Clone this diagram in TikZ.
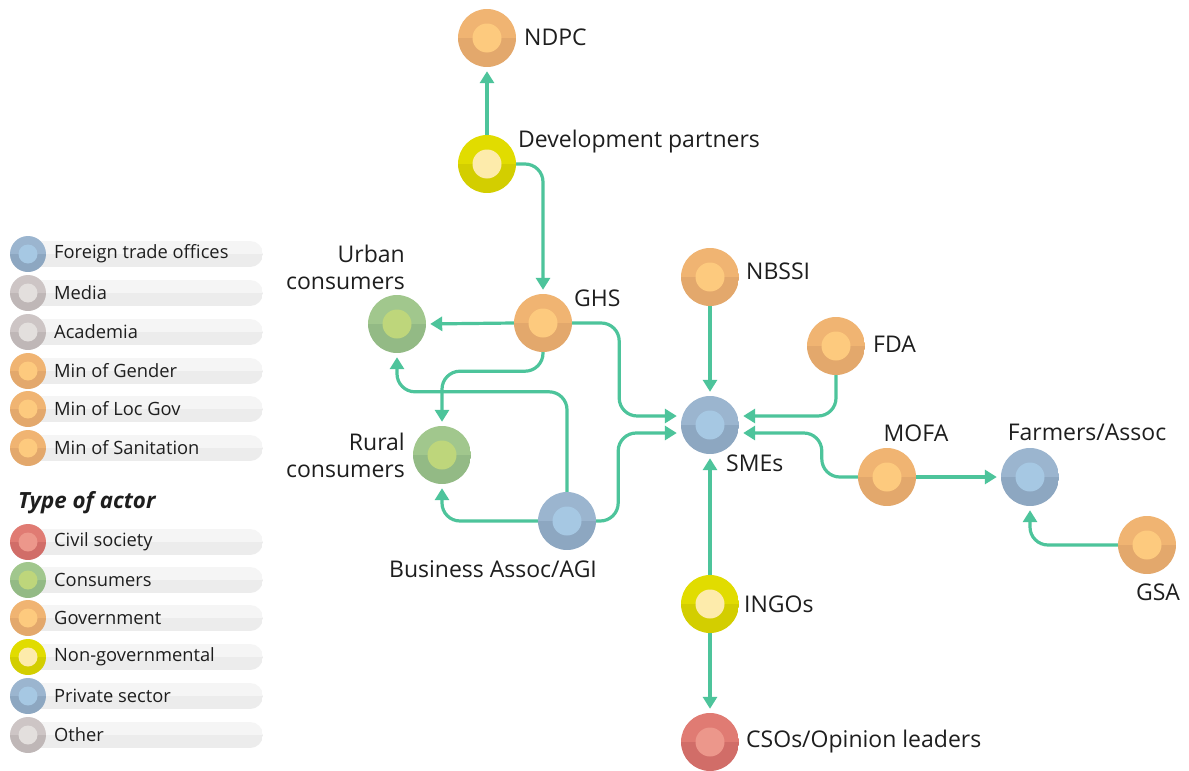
\documentclass[tikz,border=0pt]{standalone}
\usepackage{fontspec}
\setmainfont{Open Sans}
\usepackage{tikz}
\usetikzlibrary{positioning}
\usetikzlibrary{arrows.meta}

\definecolor{govA}{HTML}{F0B472}\definecolor{govB}{HTML}{E3A86C}\definecolor{govC}{HTML}{FDCA7E}
\definecolor{privA}{HTML}{9BB5CF}\definecolor{privB}{HTML}{8DA7C1}\definecolor{privC}{HTML}{A6C8E3}
\definecolor{consA}{HTML}{A1C78D}\definecolor{consB}{HTML}{93BA85}\definecolor{consC}{HTML}{BED67B}
\definecolor{ngoA}{HTML}{E1DC00}\definecolor{ngoB}{HTML}{D3CE00}\definecolor{ngoC}{HTML}{FDEBAB}
\definecolor{civA}{HTML}{E07B73}\definecolor{civB}{HTML}{D16D68}\definecolor{civC}{HTML}{EC978B}
\definecolor{othA}{HTML}{CDC5C5}\definecolor{othB}{HTML}{BFB7B7}\definecolor{othC}{HTML}{E3DFDD}
\definecolor{linkcol}{HTML}{4DC49B}
\definecolor{pillA}{HTML}{F5F5F5}\definecolor{pillB}{HTML}{ECECEC}
\definecolor{ink}{HTML}{1E1E1E}

\tikzset{
  inner/.store in=\innerr, inner=14.5pt,
  actor/.style n args={3}{circle,minimum size=58pt,inner sep=0pt,
    path picture={
      \fill[#1] (path picture bounding box.north west) rectangle (path picture bounding box.east);
      \fill[#2] (path picture bounding box.west) rectangle (path picture bounding box.south east);
      \fill[#3] (path picture bounding box.center) circle[radius=\innerr];}},
  gov/.style={actor={govA}{govB}{govC}},
  priv/.style={actor={privA}{privB}{privC}},
  cons/.style={actor={consA}{consB}{consC}},
  ngo/.style={actor={ngoA}{ngoB}{ngoC}},
  civ/.style={actor={civA}{civB}{civC}},
  oth/.style={actor={othA}{othB}{othC}},
  lbl/.style={text=ink,inner sep=0pt,font=\fontsize{23}{27}\selectfont},
  leg/.style={text=ink,inner sep=0pt,anchor=west,font=\fontsize{18.3}{21}\selectfont},
  link/.style={linkcol,line width=3.2pt,rounded corners=18pt,shorten >=4pt,
    -{Triangle[length=12pt,width=14pt]}}
}

\begin{document}
\begin{tikzpicture}[x=1pt,y=-1pt]
  \useasboundingbox[fill=white] (0,0) rectangle (1189,771);

  % legend
  \foreach \y/\txt/\kind [count=\i] in {254/Foreign trade offices/priv, 293/Media/oth,
      332/Academia/oth, 371/Min of Gender/gov, 409/Min of Loc Gov/gov,
      448/Min of Sanitation/gov, 542/Civil society/civ, 580/Consumers/cons,
      618/Government/gov, 657/Non-governmental/ngo, 696/Private sector/priv, 735/Other/oth}{
    \begin{scope}
      \clip[rounded corners=13pt] (10,\y-13) rectangle (263,\y+13);
      \fill[pillA] (10,\y-13) rectangle (263,\y);
      \fill[pillB] (10,\y) rectangle (263,\y+13);
    \end{scope}
    \node[\kind,minimum size=36pt,inner=9.5pt] (leg\i) at (28,\y) {};
    \node[leg] (legt\i) at (54,\y) {\txt};
  }
  \node[lbl,anchor=west,font=\fontsize{22.3}{26}\selectfont\bfseries\itshape] (typehead) at (18,503) {Type of actor};

  % actors
  \node[gov] (NDPC) at (487,38) {};
  \node[ngo] (DP) at (487,164) {};
  \node[gov] (GHS) at (543,323) {};
  \node[cons] (Urban) at (397,324) {};
  \node[cons] (Rural) at (442,455) {};
  \node[priv] (Bus) at (567,521) {};
  \node[priv] (SMEs) at (710,425) {};
  \node[gov] (NBSSI) at (710,277) {};
  \node[gov] (FDA) at (836,346) {};
  \node[gov] (MOFA) at (887,477) {};
  \node[priv] (Farm) at (1030,477) {};
  \node[gov] (GSA) at (1147,545) {};
  \node[ngo] (INGO) at (710,604) {};
  \node[civ] (CSO) at (710,742) {};

  % labels
  \node[lbl,anchor=west] (NDPCl) at (524,37) {NDPC};
  \node[lbl,anchor=west] (DPl) at (518,142) {Development partners};
  \node[lbl,anchor=west] (GHSl) at (574,298) {GHS};
  \node[lbl,anchor=east,align=right] (Urbanl) at (405,267) {Urban\\consumers};
  \node[lbl,anchor=east,align=right] (Rurall) at (405,455) {Rural\\consumers};
  \node[lbl] (Busl) at (493,569) {Business Assoc/AGI};
  \node[lbl,anchor=west] (SMEsl) at (726,463) {SMEs};
  \node[lbl,anchor=west] (NBSSIl) at (746,271) {NBSSI};
  \node[lbl,anchor=west] (FDAl) at (873,344) {FDA};
  \node[lbl] (MOFAl) at (916,433) {MOFA};
  \node[lbl] (Farml) at (1087,432) {Farmers/Assoc};
  \node[lbl] (GSAl) at (1158,592) {GSA};
  \node[lbl,anchor=west] (INGOl) at (744,604) {INGOs};
  \node[lbl,anchor=west] (CSOl) at (746,742) {CSOs/Opinion leaders};

  % links
  \draw[link] (DP.north) -- (NDPC.south);
  \draw[link] (DP.east) -| (GHS.north);
  \draw[link] (GHS.west) -- (Urban.east);
  \draw[link] (GHS.south) -- ++(0,19) -| (Rural.north);
  \draw[link] (GHS.east) -- ++(47,0) |- ([yshift=9pt]SMEs.west);
  \draw[link] (Bus.north) -- ++(0,-100) -| (Urban.south);
  \draw[link] (Bus.west) -| (Rural.south);
  \draw[link] (Bus.east) -- ++(22,0) |- ([yshift=-8pt]SMEs.west);
  \draw[link] (NBSSI.south) -- (SMEs.north);
  \draw[link] (FDA.south) |- ([yshift=9pt]SMEs.east);
  \draw[link] (MOFA.west) -- ++(-36,0) |- ([yshift=-8pt]SMEs.east);
  \draw[link] (MOFA.east) -- (Farm.west);
  \draw[link] (GSA.west) -| (Farm.south);
  \draw[link] (INGO.north) -- (SMEs.south);
  \draw[link] (INGO.south) -- (CSO.north);
\end{tikzpicture}
\end{document}
